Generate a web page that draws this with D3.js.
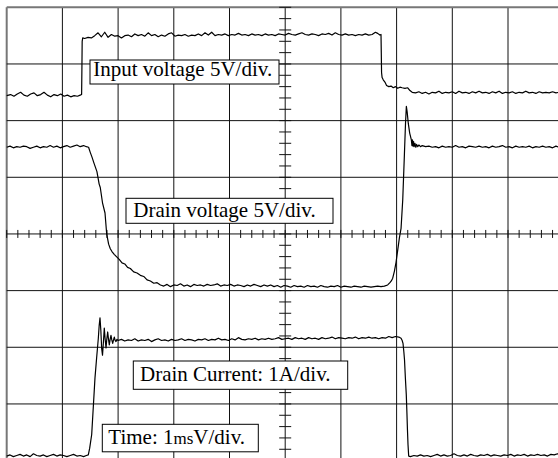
<!DOCTYPE html>
<html>
<head>
<meta charset="utf-8">
<script src="https://cdn.jsdelivr.net/npm/d3@7"></script>
<style>
  html, body { margin: 0; padding: 0; background: #fff; }
  svg { display: block; }
</style>
</head>
<body>
<svg id="chart" width="558" height="458"></svg>
<script>
// ---- Data (time in ms = divisions, value in screen divisions from bottom) ----
const inputVoltage = [
  [0,6.44],[0.07,6.46],[0.13,6.43],[0.19,6.47],[0.25,6.50],[0.31,6.45],[0.37,6.43],[0.43,6.47],[0.49,6.49],[0.55,6.44],
  [0.61,6.46],[0.67,6.50],[0.73,6.45],[0.79,6.42],[0.85,6.46],[0.91,6.44],[0.97,6.47],[1.03,6.43],[1.09,6.45],[1.15,6.42],
  [1.21,6.44],[1.27,6.43],[1.32,6.45],[1.345,6.46],[1.35,6.9],[1.355,7.4],[1.365,7.46],
  [1.40,7.45],[1.46,7.47],[1.52,7.46],[1.58,7.50],[1.64,7.55],[1.70,7.48],[1.76,7.56],[1.82,7.47],[1.88,7.52],[1.94,7.49],
  [2.00,7.50],[2.06,7.46],[2.12,7.50],[2.18,7.51],[2.24,7.48],[2.30,7.53],[2.36,7.50],[2.42,7.52],[2.48,7.49],[2.54,7.55],
  [2.60,7.50],[2.66,7.52],[2.72,7.48],[2.78,7.51],[2.84,7.49],[2.90,7.53],[2.96,7.55],[3.02,7.49],[3.08,7.51],[3.14,7.50],
  [3.20,7.52],[3.26,7.49],[3.32,7.51],[3.38,7.50],[3.44,7.53],[3.50,7.50],[3.56,7.55],[3.62,7.51],[3.68,7.56],[3.74,7.50],
  [3.80,7.52],[3.86,7.51],[3.92,7.53],[3.98,7.50],[4.04,7.52],[4.10,7.51],[4.16,7.54],[4.22,7.51],[4.28,7.52],[4.34,7.50],
  [4.40,7.53],[4.46,7.51],[4.52,7.52],[4.58,7.50],[4.64,7.53],[4.70,7.51],[4.76,7.52],[4.82,7.50],[4.88,7.53],[4.94,7.52],
  [5.00,7.51],[5.06,7.54],[5.12,7.52],[5.18,7.51],[5.24,7.53],[5.30,7.55],[5.36,7.52],[5.42,7.51],[5.48,7.53],[5.54,7.52],
  [5.60,7.50],[5.66,7.53],[5.72,7.52],[5.78,7.54],[5.84,7.51],[5.90,7.55],[5.96,7.52],[6.02,7.51],[6.08,7.53],[6.14,7.51],
  [6.20,7.52],[6.26,7.50],[6.32,7.52],[6.38,7.51],[6.44,7.53],[6.50,7.51],[6.56,7.52],[6.62,7.56],[6.66,7.54],[6.70,7.51],
  [6.72,7.52],[6.725,7.2],[6.73,6.85],[6.74,6.76],[6.76,6.72],[6.79,6.68],[6.82,6.62],[6.86,6.60],[6.90,6.61],[6.94,6.58],
  [6.98,6.60],[7.02,6.57],[7.06,6.59],[7.10,6.58],[7.15,6.57],[7.20,6.58],[7.24,6.53],[7.28,6.50],
  [7.34,6.49],[7.40,6.51],[7.46,6.48],[7.52,6.50],[7.58,6.47],[7.64,6.50],[7.70,6.49],[7.76,6.52],[7.82,6.48],[7.88,6.50],
  [7.94,6.49],[8.00,6.51],[8.06,6.48],[8.12,6.52],[8.18,6.49],[8.24,6.50],[8.30,6.48],[8.36,6.51],[8.42,6.49],[8.48,6.52],
  [8.54,6.49],[8.60,6.50],[8.66,6.48],[8.72,6.51],[8.78,6.49],[8.84,6.52],[8.90,6.48],[8.96,6.50],[9.02,6.49],[9.08,6.51],
  [9.14,6.48],[9.20,6.50],[9.26,6.49],[9.32,6.52],[9.38,6.49],[9.44,6.50],[9.50,6.48],[9.56,6.51],[9.62,6.49],[9.68,6.50],
  [9.74,6.49],[9.80,6.51],[9.86,6.49],[9.92,6.50],[10.0,6.49]
];

const drainVoltage = [
  [0,5.53],[0.06,5.55],[0.12,5.52],[0.18,5.54],[0.24,5.53],[0.30,5.55],[0.36,5.54],[0.42,5.51],[0.48,5.53],[0.54,5.55],
  [0.60,5.52],[0.66,5.54],[0.72,5.53],[0.78,5.56],[0.84,5.53],[0.90,5.55],[0.96,5.52],[1.02,5.54],[1.08,5.56],[1.14,5.53],
  [1.20,5.55],[1.26,5.57],[1.32,5.54],[1.38,5.56],[1.43,5.54],[1.47,5.53],
  [1.50,5.44],[1.53,5.36],[1.57,5.24],[1.62,5.10],[1.66,4.88],[1.68,4.82],[1.72,4.55],[1.765,4.37],[1.795,4.0],[1.83,3.82],
  [1.86,3.74],[1.89,3.69],[1.93,3.64],[1.97,3.60],[2.02,3.55],[2.07,3.49],[2.12,3.47],[2.17,3.41],[2.22,3.39],[2.28,3.33],
  [2.34,3.31],[2.40,3.27],[2.46,3.25],[2.52,3.19],[2.58,3.17],[2.64,3.13],[2.70,3.14],
  [2.76,3.10],[2.82,3.08],[2.88,3.11],[2.94,3.07],[3.00,3.10],[3.06,3.09],[3.12,3.12],[3.18,3.08],[3.24,3.10],[3.30,3.07],
  [3.36,3.11],[3.42,3.09],[3.48,3.10],[3.54,3.08],[3.60,3.11],[3.66,3.09],[3.72,3.10],[3.78,3.12],[3.84,3.08],[3.90,3.10],
  [3.96,3.09],[4.02,3.11],[4.08,3.08],[4.14,3.10],[4.20,3.09],[4.26,3.07],[4.32,3.10],[4.38,3.08],[4.44,3.11],[4.50,3.09],
  [4.56,3.07],[4.62,3.10],[4.68,3.08],[4.74,3.10],[4.80,3.07],[4.86,3.09],[4.92,3.06],[4.98,3.09],[5.04,3.08],[5.10,3.06],
  [5.16,3.09],[5.22,3.07],[5.28,3.08],[5.34,3.06],[5.40,3.09],[5.46,3.07],[5.52,3.08],[5.58,3.06],[5.64,3.09],[5.70,3.07],
  [5.76,3.06],[5.82,3.08],[5.88,3.07],[5.94,3.09],[6.00,3.06],[6.06,3.08],[6.12,3.07],[6.18,3.06],[6.24,3.08],[6.30,3.07],
  [6.36,3.06],[6.42,3.08],[6.48,3.07],[6.54,3.06],[6.60,3.07],[6.66,3.08],[6.72,3.07],[6.78,3.08],
  [6.84,3.10],[6.88,3.14],[6.905,3.17],[6.93,3.22],[6.96,3.34],[6.99,3.50],[7.025,3.75],[7.05,3.93],[7.08,4.10],[7.11,4.60],
  [7.14,5.40],[7.16,5.95],[7.175,6.25],[7.19,6.15],[7.21,5.95],[7.235,5.78],[7.255,5.70],[7.265,5.66],
  [7.275,5.56],[7.285,5.66],[7.295,5.55],[7.305,5.63],[7.315,5.54],[7.33,5.60],[7.345,5.53],[7.36,5.58],[7.38,5.54],[7.40,5.57],
  [7.43,5.54],[7.46,5.56],
  [7.52,5.54],[7.58,5.55],[7.64,5.53],[7.70,5.54],[7.76,5.52],[7.82,5.55],[7.88,5.53],[7.94,5.54],[8.00,5.53],[8.06,5.56],
  [8.12,5.53],[8.18,5.54],[8.24,5.52],[8.30,5.55],[8.36,5.54],[8.42,5.53],[8.48,5.55],[8.54,5.53],[8.60,5.54],[8.66,5.52],
  [8.72,5.55],[8.78,5.53],[8.84,5.54],[8.90,5.56],[8.96,5.53],[9.02,5.54],[9.08,5.52],[9.14,5.55],[9.20,5.53],[9.26,5.54],
  [9.32,5.53],[9.38,5.55],[9.44,5.52],[9.50,5.54],[9.56,5.53],[9.62,5.55],[9.68,5.53],[9.74,5.54],[9.80,5.52],[9.86,5.55],
  [9.92,5.53],[10.0,5.54]
];

const drainCurrent = [
  [0,0.08],[0.06,0.10],[0.12,0.07],[0.18,0.09],[0.24,0.11],[0.30,0.08],[0.36,0.10],[0.42,0.07],[0.48,0.12],[0.54,0.09],
  [0.60,0.08],[0.66,0.10],[0.72,0.07],[0.78,0.09],[0.84,0.11],[0.90,0.08],[0.96,0.10],[1.02,0.09],[1.08,0.07],[1.14,0.09],
  [1.20,0.11],[1.26,0.08],[1.32,0.09],[1.38,0.07],[1.43,0.09],[1.465,0.10],
  [1.49,0.22],[1.526,0.46],[1.555,0.95],[1.585,1.46],[1.615,1.82],[1.645,2.16],[1.66,2.38],[1.675,2.52],
  [1.69,2.30],[1.705,1.98],[1.72,1.86],[1.737,2.10],[1.752,2.34],[1.767,2.15],[1.783,1.99],[1.798,2.15],[1.813,2.27],[1.828,2.14],
  [1.842,2.04],[1.857,2.14],[1.872,2.21],[1.887,2.13],[1.903,2.07],[1.918,2.13],[1.932,2.18],[1.947,2.12],[1.962,2.10],[1.98,2.14],
  [2.00,2.12],
  [2.06,2.14],[2.12,2.11],[2.18,2.13],[2.24,2.12],[2.30,2.15],[2.36,2.11],[2.42,2.13],[2.48,2.12],[2.54,2.14],[2.60,2.10],
  [2.66,2.13],[2.72,2.15],[2.78,2.12],[2.84,2.13],[2.90,2.11],[2.96,2.14],[3.02,2.12],[3.08,2.13],[3.14,2.15],[3.20,2.12],
  [3.26,2.14],[3.32,2.13],[3.38,2.11],[3.44,2.14],[3.50,2.13],[3.56,2.15],[3.62,2.12],[3.68,2.14],[3.74,2.13],[3.80,2.16],
  [3.86,2.13],[3.92,2.14],[3.98,2.12],[4.04,2.15],[4.10,2.13],[4.16,2.17],[4.22,2.14],[4.28,2.13],[4.34,2.15],[4.40,2.14],
  [4.46,2.16],[4.52,2.13],[4.58,2.15],[4.64,2.14],[4.70,2.16],[4.76,2.14],[4.82,2.15],[4.88,2.17],[4.94,2.14],[5.00,2.15],
  [5.06,2.16],[5.12,2.14],[5.18,2.17],[5.24,2.15],[5.30,2.16],[5.36,2.14],[5.42,2.17],[5.48,2.15],[5.54,2.16],[5.60,2.14],
  [5.66,2.17],[5.72,2.15],[5.78,2.16],[5.84,2.18],[5.90,2.15],[5.96,2.17],[6.02,2.16],[6.08,2.15],[6.14,2.17],[6.20,2.16],
  [6.26,2.18],[6.32,2.15],[6.38,2.17],[6.44,2.16],[6.50,2.18],[6.56,2.16],[6.62,2.17],[6.68,2.15],[6.74,2.17],[6.80,2.16],
  [6.86,2.19],[6.92,2.17],[6.98,2.19],[7.04,2.18],[7.08,2.16],
  [7.10,2.12],[7.115,2.07],[7.13,1.92],[7.142,1.78],[7.158,1.45],[7.174,1.16],[7.185,0.85],[7.195,0.54],[7.205,0.28],[7.217,0.08],
  [7.25,0.07],[7.31,0.09],[7.37,0.08],[7.43,0.10],[7.49,0.08],[7.55,0.09],[7.61,0.07],[7.67,0.09],[7.73,0.11],[7.79,0.08],
  [7.85,0.10],[7.91,0.08],[7.97,0.09],[8.03,0.12],[8.09,0.09],[8.15,0.08],[8.21,0.10],[8.27,0.08],[8.33,0.11],[8.39,0.09],
  [8.45,0.08],[8.51,0.10],[8.57,0.09],[8.63,0.11],[8.69,0.08],[8.75,0.10],[8.81,0.09],[8.87,0.08],[8.93,0.10],[8.99,0.09],
  [9.05,0.11],[9.11,0.08],[9.17,0.10],[9.23,0.09],[9.29,0.11],[9.35,0.08],[9.41,0.10],[9.47,0.09],[9.53,0.11],[9.59,0.09],
  [9.65,0.10],[9.71,0.08],[9.77,0.11],[9.83,0.10],[9.89,0.12],[9.95,0.09],[10.0,0.10]
];

const labelTexts = ["Input voltage 5V/div.", "Drain voltage 5V/div.", "Drain Current: 1A/div.", ["Time: 1", "ms", "V/div."]];

// ---- Chart ----
const svg = d3.select("#chart");
const x = d3.scaleLinear().domain([0, 10]).range([6.7, 563.7]);
const y = d3.scaleLinear().domain([0, 8]).range([460.6, 7.3]);

const grid = svg.append("g");
// grid lines
grid.selectAll("line.v").data(x.ticks(10)).join("line")
  .attr("x1", d => x(d)).attr("x2", d => x(d))
  .attr("y1", y(8)).attr("y2", y(0))
  .attr("stroke", d => d === 0 ? "#777" : "#111")
  .attr("stroke-width", d => d === 0 ? 2 : 1);
grid.selectAll("line.h").data(y.ticks(8)).join("line")
  .attr("x1", x(0)).attr("x2", x(10))
  .attr("y1", d => y(d)).attr("y2", d => y(d))
  .attr("stroke", d => d === 8 ? "#777" : "#111")
  .attr("stroke-width", d => d === 8 ? 2 : 1);

// minor ticks on the centre axes
const minorX = d3.range(0, 10.001, 0.2);
const minorY = d3.range(0, 8.001, 0.2);
grid.selectAll("line.mx").data(minorX).join("line")
  .attr("x1", d => x(d)).attr("x2", d => x(d))
  .attr("y1", y(4) - 4).attr("y2", y(4) + 4)
  .attr("stroke", "#111").attr("stroke-width", 1);
grid.selectAll("line.my").data(minorY).join("line")
  .attr("x1", x(5) - 6).attr("x2", x(5) + 6)
  .attr("y1", d => y(d)).attr("y2", d => y(d))
  .attr("stroke", "#111").attr("stroke-width", 1);

// traces
const line = d3.line().x(d => x(d[0])).y(d => y(d[1]));
[inputVoltage, drainVoltage, drainCurrent].forEach(s => {
  svg.append("path").datum(s)
    .attr("d", line)
    .attr("fill", "none")
    .attr("stroke", "#000")
    .attr("stroke-width", 1.2)
    .attr("stroke-linejoin", "round");
});

// labels (layout in px)
const labelLayout = [
  {bx: 90, by: 60, bw: 189, bh: 24, tx: 93.3, ty: 75.7},
  {bx: 126, by: 198.3, bw: 207, bh: 25, tx: 133.3, ty: 216.5},
  {bx: 133.3, by: 361, bw: 214.4, bh: 28.3, tx: 140, ty: 380.7},
  {bx: 102.3, by: 424.3, bw: 156, bh: 27.5, tx: 108.3, ty: 443.5}
];
const font = "'Liberation Serif', 'Times New Roman', serif";
labelLayout.forEach((L, i) => {
  const g = svg.append("g");
  g.append("rect")
    .attr("x", L.bx).attr("y", L.by).attr("width", L.bw).attr("height", L.bh)
    .attr("fill", "#fff").attr("stroke", "#000").attr("stroke-width", 1);
  const t = g.append("text")
    .attr("x", L.tx).attr("y", L.ty)
    .attr("font-family", font).attr("font-size", 21).attr("fill", "#000");
  const lt = labelTexts[i];
  if (Array.isArray(lt)) {
    t.append("tspan").text(lt[0]);
    t.append("tspan").attr("font-size", 17).text(lt[1]);
    t.append("tspan").text(lt[2]);
  } else {
    t.text(lt);
  }
});
</script>
</body>
</html>
